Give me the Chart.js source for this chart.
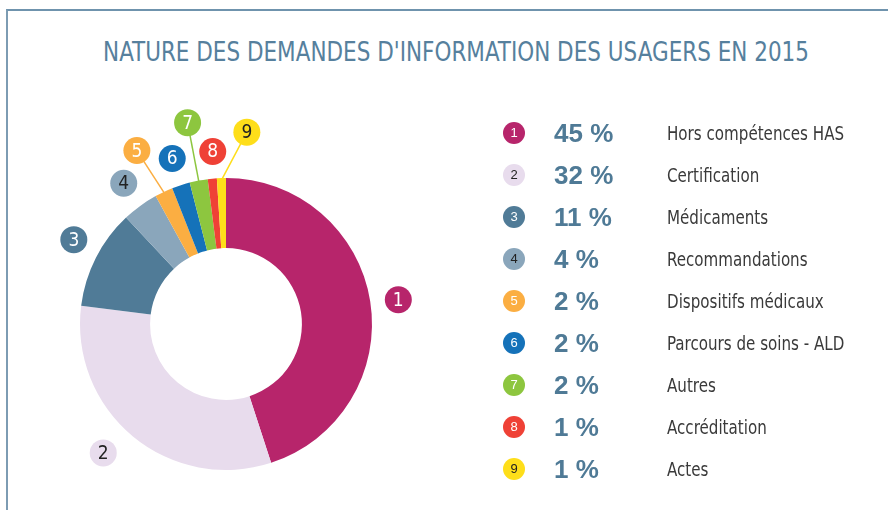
<!DOCTYPE html>
<html lang="fr">
<head>
<meta charset="utf-8">
<script src="https://cdn.jsdelivr.net/npm/chart.js@4"></script>
<style>
  html, body { margin: 0; padding: 0; background: #fff; }
  body { width: 888px; height: 510px; position: relative; overflow: hidden; font-family: "DejaVu Sans Condensed", "Liberation Sans Narrow", sans-serif; }
  #frame { position: absolute; left: 6px; top: 9px; width: 900px; height: 520px; border-left: 2px solid #7d9cb3; border-top: 2px solid #6f93ad; }
  #titre { position: absolute; left: 0; width: 912px; top: 37px; text-align: center; font-size: 26px; color: #56809d; white-space: nowrap; transform: scaleX(0.92); transform-origin: 456px 0; }
  #wrap { position: absolute; left: 0; top: 0; width: 888px; height: 510px; }
  #legende { position: absolute; left: 503px; top: 112px; }
  .ligne { height: 42px; display: flex; align-items: center; white-space: nowrap; }
  .pastille { width: 22px; height: 22px; border-radius: 50%; font-family: "Liberation Sans", sans-serif; font-size: 13px; line-height: 22px; text-align: center; }
  .pct { width: 113px; margin-left: 29px; font-family: "Liberation Sans", Arial, sans-serif; font-weight: bold; font-size: 26px; color: #4f7a96; }
  .nom { font-size: 20px; color: #3a3a3a; transform: scaleX(0.84); transform-origin: 0 50%; }
</style>
</head>
<body>
<div id="frame"></div>
<div id="titre">NATURE DES DEMANDES D'INFORMATION DES USAGERS EN 2015</div>
<div id="wrap"><canvas id="donut"></canvas></div>
<div id="legende"></div>
<script>
// Données
const categories = [
  "Hors compétences HAS",
  "Certification",
  "Médicaments",
  "Recommandations",
  "Dispositifs médicaux",
  "Parcours de soins - ALD",
  "Autres",
  "Accréditation",
  "Actes"
];
const pourcentages = [45, 32, 11, 4, 2, 2, 2, 1, 1];
const numeros = ["1", "2", "3", "4", "5", "6", "7", "8", "9"];

const couleurs = ["#b7256b", "#e8dced", "#507b97", "#8aa6bb", "#fbae42", "#1572b9", "#8dc63f", "#ef4136", "#fede1a"];
const couleursTexte = ["#fff", "#222", "#fff", "#222", "#fff", "#fff", "#fff", "#fff", "#222"];
// distance des pastilles au bord extérieur, décalage d'angle (degrés)
const distPastille = [28, 32, 28, 28, 49, 28, 59, 27, 47];
const decalAngle = [1, 4, 2, 0, -2, 0, 0, 1, 8];
const avecTrait = [false, false, false, false, true, false, true, false, true];

// Légende HTML
const leg = document.getElementById("legende");
categories.forEach((c, i) => {
  const row = document.createElement("div");
  row.className = "ligne";
  row.innerHTML =
    '<div class="pastille" style="background:' + couleurs[i] + ';color:' + couleursTexte[i] + '">' + numeros[i] + '</div>' +
    '<div class="pct">' + pourcentages[i] + ' %</div>' +
    '<div class="nom">' + c + '</div>';
  leg.appendChild(row);
});

// Pastilles numérotées autour de l'anneau
const pastilles = {
  id: "pastilles",
  afterDatasetsDraw(chart) {
    const ctx = chart.ctx;
    const meta = chart.getDatasetMeta(0);
    meta.data.forEach((arc, i) => {
      const p = arc.getProps(["x", "y", "startAngle", "endAngle", "outerRadius"], true);
      const mid = (p.startAngle + p.endAngle) / 2 + decalAngle[i] * Math.PI / 180;
      const r = p.outerRadius + distPastille[i];
      const cx = p.x + Math.cos(mid) * r;
      const cy = p.y + Math.sin(mid) * r;
      ctx.save();
      if (avecTrait[i]) {
        const a0 = (p.startAngle + p.endAngle) / 2;
        ctx.strokeStyle = couleurs[i];
        ctx.lineWidth = 1.5;
        ctx.beginPath();
        ctx.moveTo(p.x + Math.cos(a0) * (p.outerRadius - 2), p.y + Math.sin(a0) * (p.outerRadius - 2));
        ctx.lineTo(cx, cy);
        ctx.stroke();
      }
      ctx.fillStyle = couleurs[i];
      ctx.beginPath();
      ctx.arc(cx, cy, 13.5, 0, Math.PI * 2);
      ctx.fill();
      ctx.fillStyle = couleursTexte[i];
      ctx.font = "19px 'DejaVu Sans Condensed', sans-serif";
      ctx.textAlign = "center";
      ctx.textBaseline = "middle";
      ctx.fillText(numeros[i], cx, cy + 1);
      ctx.restore();
    });
  }
};

new Chart(document.getElementById("donut"), {
  type: "doughnut",
  data: {
    labels: categories,
    datasets: [{
      data: pourcentages,
      backgroundColor: couleurs,
      borderWidth: 0
    }]
  },
  options: {
    responsive: true,
    maintainAspectRatio: false,
    animation: false,
    cutout: "52%",
    layout: { padding: { left: 80, right: 516, top: 178, bottom: 40 } },
    plugins: {
      legend: { display: false },
      tooltip: { enabled: false }
    }
  },
  plugins: [pastilles]
});
</script>
</body>
</html>
